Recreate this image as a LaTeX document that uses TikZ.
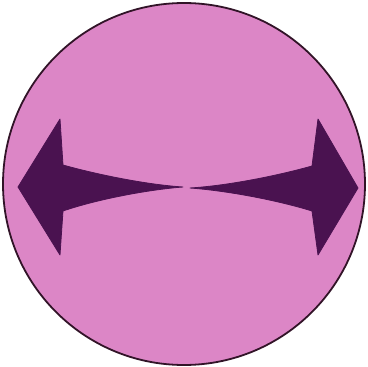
\documentclass[tikz,border=0pt]{standalone}
\definecolor{pinkfill}{RGB}{220,134,198}
\definecolor{arrowpurple}{RGB}{74,18,80}
\definecolor{rimcol}{RGB}{50,20,40}
\tikzset{arrowshape/.style={fill=arrowpurple,draw=arrowpurple,line width=0.8pt,line join=round}}
\begin{document}
\begin{tikzpicture}[x=1pt,y=-1pt]
\useasboundingbox (0,0) rectangle (368,367);
\fill[white] (0,0) rectangle (368,367);
\draw[fill=pinkfill,draw=rimcol,line width=1.8pt] (184,184) circle (181);
% left arrow
\path[arrowshape] (18,187) -- (60,119) -- (63,165)
  .. controls (95,174) and (145,184.5) .. (183,187)
  .. controls (145,190) and (95,200) .. (63,211)
  -- (60,255) -- cycle;
% right arrow
\path[arrowshape] (358,188) -- (318,119) -- (312,166)
  .. controls (280,175) and (230,185.5) .. (190,188)
  .. controls (230,191) and (280,201) .. (312,211)
  -- (318,255) -- cycle;
\end{tikzpicture}
\end{document}
